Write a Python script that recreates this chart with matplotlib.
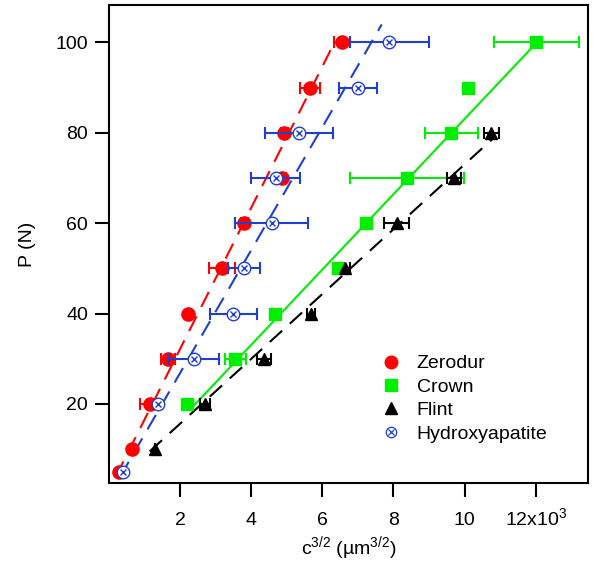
import matplotlib
matplotlib.use("Agg")
import matplotlib.pyplot as plt
import numpy as np
from matplotlib.lines import Line2D
from matplotlib.legend_handler import HandlerTuple

plt.rcParams['font.family'] = ['Liberation Sans', 'DejaVu Sans']
plt.rcParams['mathtext.fontset'] = 'custom'
plt.rcParams['mathtext.rm'] = 'Liberation Sans'
plt.rcParams['mathtext.it'] = 'Liberation Sans'

# c^(3/2) values in units of 10^3 um^(3/2), load P in N
zer_P = [5, 10, 20, 30, 40, 50, 60, 70, 80, 90, 100]
zer_c = [0.27, 0.64, 1.16, 1.66, 2.22, 3.18, 3.80, 4.87, 4.93, 5.65, 6.55]
zer_err = [0, 0, 0.28, 0.2, 0, 0.37, 0.1, 0.1, 0.1, 0.29, 0.23]

crown_P = [20, 30, 40, 50, 60, 70, 80, 90, 100]
crown_c = [2.20, 3.55, 4.67, 6.43, 7.24, 8.38, 9.63, 10.10, 12.02]
crown_err = [0.1, 0.3, 0.15, 0.1, 0.1, 1.6, 0.75, 0, 1.2]

flint_P = [10, 20, 30, 40, 50, 60, 70, 80]
flint_c = [1.30, 2.70, 4.36, 5.68, 6.63, 8.09, 9.70, 10.75]
flint_err = [0, 0.15, 0.2, 0.1, 0.15, 0.36, 0.2, 0.21]

hap_P = [5, 20, 30, 40, 50, 60, 70, 80, 90, 100]
hap_c = [0.39, 1.39, 2.39, 3.50, 3.80, 4.57, 4.69, 5.34, 7.01, 7.88]
hap_err = [np.nan, np.nan, 0.70, 0.67, 0.46, 1.03, 0.69, 0.95, 0.54, 1.11]

# linear fits c = a + b*P, drawn over the P range shown
zer_fit = (-0.06, 0.064, 4, 100)
crown_fit = (0.03, 0.12, 19, 100)
flint_fit = (-0.18, 0.1394, 9.5, 78.6)
hap_fit = (0.026, 0.0735, 4, 104)

xtick_vals = [2, 4, 6, 8, 10, 12]
xtick_labels = ['2', '4', '6', '8', '10', '12x10$^{3}$']
ytick_vals = [20, 40, 60, 80, 100]

red = '#ff0000'
green = '#00ee00'
black = '#000000'
blue = '#1f3fd0'

fig = plt.figure(figsize=(5.93, 5.66), dpi=100)
ax = fig.add_axes([0.1838, 0.1461, 0.9916 - 0.1838, 0.9912 - 0.1461])

def fit_line(fit, color, ls):
    a, b, p0, p1 = fit
    P = np.array([p0, p1])
    ax.plot(a + b * P, P, color=color, ls=ls, lw=1.5, zorder=2)

dash = (0, (8, 5))
fit_line(zer_fit, red, dash)
fit_line(hap_fit, blue, dash)
fit_line(crown_fit, green, '-')
fit_line(flint_fit, black, dash)

ekw = dict(ls='none', elinewidth=1.5, capsize=4, capthick=1.5, zorder=3)
ax.errorbar(crown_c, crown_P, xerr=crown_err, color=green, marker='s', ms=9,
            **ekw)
ax.errorbar(flint_c, flint_P, xerr=flint_err, color=black, marker='^', ms=9,
            **ekw)
ax.errorbar(zer_c, zer_P, xerr=zer_err, color=red, marker='o', ms=9.5,
            **ekw)
ax.errorbar(hap_c, hap_P, xerr=hap_err, color=blue, ls='none',
            elinewidth=1.5, capsize=4, capthick=1.5, zorder=4)
ax.plot(hap_c, hap_P, ls='none', marker='o', ms=9, mfc='white', mec=blue,
        mew=1.0, zorder=5)
ax.plot(hap_c, hap_P, ls='none', marker='x', ms=5, mec=blue, mew=1.0, zorder=6)

ax.set_xlim(0, 13.47)
ax.set_ylim(2.44, 108.3)
ax.set_xticks(xtick_vals)
ax.set_xticklabels(xtick_labels)
ax.set_yticks(ytick_vals)
ax.tick_params(axis='both', direction='out', length=10, width=1.5,
               labelsize=14)
ax.tick_params(axis='x', pad=20)
ax.tick_params(axis='y', pad=5)
for lab in ax.get_xticklabels():
    lab.set_va('baseline')
for s in ax.spines.values():
    s.set_linewidth(1.5)

ax.set_xlabel('c$^{3/2}$ (µm$^{3/2}$)', fontsize=14, labelpad=4)
ax.set_ylabel('P (N)', fontsize=14, labelpad=14)

hap_handle = (
    Line2D([], [], ls='none', marker='o', ms=7.5, mfc='white', mec=blue, mew=0.9),
    Line2D([], [], ls='none', marker='x', ms=4, mec=blue, mew=0.9),
)
handles = [
    Line2D([], [], ls='none', marker='o', ms=9, color=red),
    Line2D([], [], ls='none', marker='s', ms=8, color=green),
    Line2D([], [], ls='none', marker='^', ms=8, color=black),
    hap_handle,
]
labels = ['Zerodur', 'Crown', 'Flint', 'Hydroxyapatite']
ax.legend(handles, labels, loc='upper left', bbox_to_anchor=(0.553, 0.285),
          frameon=False, fontsize=14, handlelength=1.0, handletextpad=0.8,
          labelspacing=0.3, borderaxespad=0,
          handler_map={tuple: HandlerTuple(ndivide=1, pad=0)})

fig.savefig('out.png', dpi=100)
